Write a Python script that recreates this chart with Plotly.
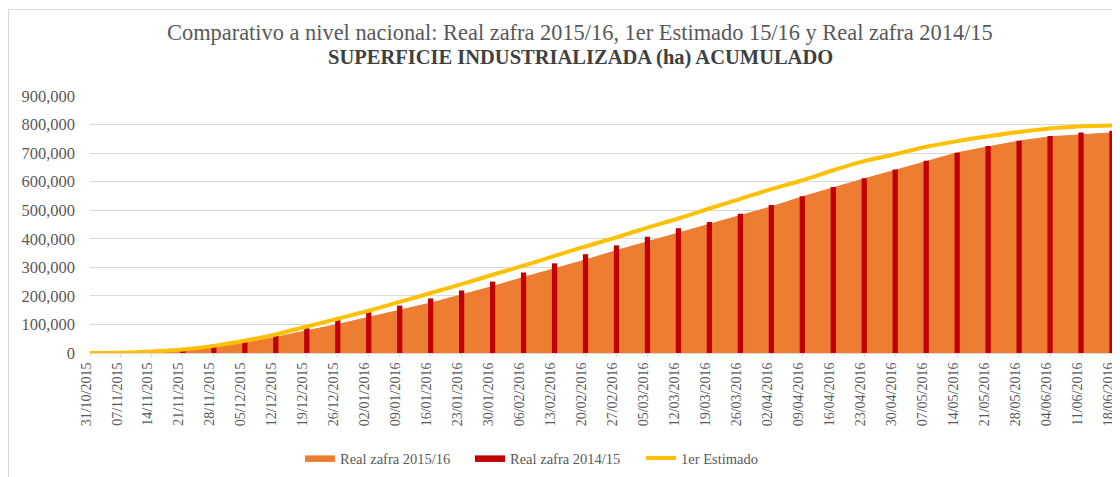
import plotly.graph_objects as go

fechas = ["31/10/2015", "07/11/2015", "14/11/2015", "21/11/2015", "28/11/2015", "05/12/2015",
          "12/12/2015", "19/12/2015", "26/12/2015", "02/01/2016", "09/01/2016", "16/01/2016",
          "23/01/2016", "30/01/2016", "06/02/2016", "13/02/2016", "20/02/2016", "27/02/2016",
          "05/03/2016", "12/03/2016", "19/03/2016", "26/03/2016", "02/04/2016", "09/04/2016",
          "16/04/2016", "23/04/2016", "30/04/2016", "07/05/2016", "14/05/2016", "21/05/2016",
          "28/05/2016", "04/06/2016", "11/06/2016", "18/06/2016"]

real_1516 = [0, 500, 3000, 9000, 20000, 35000, 55000, 78000, 100000, 125000, 151000, 175000,
             204000, 233000, 265000, 295000, 326000, 359000, 390000, 421000, 452000, 481000,
             512000, 547000, 579000, 610000, 640000, 670000, 701000, 722000, 742000, 757000,
             765000, 771000]

real_1415 = [0, 0, 2000, 12000, 30000, 40000, 62000, 87000, 116000, 143000, 166000, 191000,
             219000, 250000, 282000, 314000, 346000, 377000, 407000, 437000, 459000, 488000,
             518000, 549000, 581000, 612000, 643000, 673000, 701000, 725000, 743000, 760000,
             772000, 778000]

estimado = [0, 1000, 5000, 12000, 25000, 43000, 65000, 93000, 120000, 148000, 179000, 210000,
            241000, 274000, 306000, 340000, 373000, 405000, 439000, 471000, 506000, 540000,
            574000, 605000, 640000, 672000, 696000, 722000, 742000, 759000, 774000, 786000,
            794000, 797000]

y_ticks = [0, 100000, 200000, 300000, 400000, 500000, 600000, 700000, 800000, 900000]

FONT = "Liberation Serif, Times New Roman, serif"
GRAY = "#595959"
ORANGE, RED, YELLOW = "#ED7D31", "#C00000", "#FFC000"

fig = go.Figure()
fig.add_trace(go.Scatter(x=fechas, y=real_1516, name="Real zafra 2015/16", mode="lines",
                         fill="tozeroy", fillcolor=ORANGE, legend="legend",
                         line=dict(color=ORANGE, width=1)))
fig.add_trace(go.Bar(x=fechas, y=real_1415, name="Real zafra 2014/15", yaxis="y2",
                     showlegend=False,
                     marker=dict(color=RED, line=dict(width=0)), width=0.17))
# legend swatch for the bar series (wide filled box as in the reference)
fig.add_trace(go.Scatter(x=[None], y=[None], name="Real zafra 2014/15", mode="lines",
                         fill="toself", fillcolor=RED, legend="legend2", yaxis="y2",
                         line=dict(color=RED, width=1)))
fig.add_trace(go.Scatter(x=fechas, y=estimado, name="1er Estimado", mode="lines", yaxis="y2",
                         legend="legend3",
                         line=dict(color=YELLOW, width=4, shape="spline")))

# page offset of the figure (default body margin)
OX, OY = 8, 8
W, H = 1112, 469
# plot area in page pixels
PL, PR, PT, PB = 90, 1112, 96, 353
L, T = PL - OX, PT - OY
R = (OX + W) - PR
B = (OY + H) - PB
pw, ph = PR - PL, PB - PT

def px(x):
    return (x - PL) / pw

def py(y):
    return (PB - y) / ph

def leg(xpix):
    return dict(orientation="h", x=px(xpix), xanchor="left", y=py(458), yanchor="middle",
                font=dict(family=FONT, size=14.5, color=GRAY), itemwidth=30,
                bgcolor="rgba(0,0,0,0)")

D = 5
fig.update_layout(
    width=W, height=H,
    margin=dict(l=L, r=R, t=T, b=B, autoexpand=False),
    paper_bgcolor="white", plot_bgcolor="white",
    font=dict(family=FONT, color=GRAY),
    showlegend=True,
    legend=leg(305 - D), legend2=leg(475 - D), legend3=leg(646 - D),
    xaxis=dict(type="category", range=[0, 33], showgrid=False, tickangle=-90,
               tickfont=dict(family=FONT, size=14, color=GRAY), automargin=False,
               ticks="outside", ticklen=3, tickcolor="#D9D9D9", ticklabelshift=-4,
               showline=True, linecolor="#D9D9D9", linewidth=1, zeroline=False),
    yaxis=dict(range=[0, 900000], tickvals=y_ticks, automargin=False,
               tickformat=",", showgrid=True, gridcolor="#D9D9D9", gridwidth=1,
               tickfont=dict(family=FONT, size=16.5, color=GRAY), zeroline=False,
               ticklabelstandoff=14),
    yaxis2=dict(range=[0, 900000], overlaying="y", visible=False, showgrid=False,
                automargin=False, zeroline=False),
    annotations=[
        dict(text="Comparativo a nivel nacional: Real zafra 2015/16, 1er Estimado 15/16 y Real zafra 2014/15",
             x=px(580), y=py(32), xref="paper", yref="paper", showarrow=False,
             xanchor="center", yanchor="middle",
             font=dict(family=FONT, size=22.4, color=GRAY)),
        dict(text="<b>SUPERFICIE INDUSTRIALIZADA (ha) ACUMULADO</b>",
             x=px(580), y=py(57), xref="paper", yref="paper", showarrow=False,
             xanchor="center", yanchor="middle",
             font=dict(family=FONT, size=20.5, color="#404040")),
    ],
    shapes=[dict(type="rect", xref="paper", yref="paper",
                 x0=px(8.5), x1=px(1130), y0=py(490), y1=py(9.5),
                 line=dict(color="#D9D9D9", width=1), fillcolor="rgba(0,0,0,0)",
                 layer="above")],
)

fig.write_html("out.html")
